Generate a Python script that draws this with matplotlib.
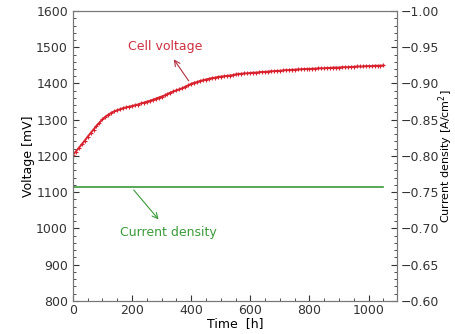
import matplotlib
matplotlib.use("Agg")
import matplotlib.pyplot as plt
from matplotlib.ticker import MultipleLocator

time_h = [0, 10, 20, 30, 40, 50, 60, 70, 80, 90,
          100, 110, 120, 130, 140, 150, 160, 170, 180, 190,
          200, 210, 220, 230, 240, 250, 260, 270, 280, 290,
          300, 310, 320, 330, 340, 350, 360, 370, 380, 390,
          400, 410, 420, 430, 440, 450, 460, 470, 480, 490,
          500, 510, 520, 530, 540, 550, 560, 570, 580, 590,
          600, 610, 620, 630, 640, 650, 660, 670, 680, 690,
          700, 710, 720, 730, 740, 750, 760, 770, 780, 790,
          800, 810, 820, 830, 840, 850, 860, 870, 880, 890,
          900, 910, 920, 930, 940, 950, 960, 970, 980, 990,
          1000, 1010, 1020, 1030, 1040, 1050]
cell_voltage = [1203, 1212, 1222, 1232, 1242, 1253, 1263, 1273, 1283, 1292,
                1301, 1308, 1314, 1319, 1323, 1326, 1329, 1332, 1334, 1336,
                1338, 1340, 1342, 1345, 1347, 1350, 1352, 1355, 1358, 1361,
                1364, 1367, 1371, 1375, 1378, 1381, 1384, 1387, 1391, 1395,
                1399, 1402, 1404, 1407, 1409, 1411, 1413, 1415, 1416, 1418,
                1419, 1420, 1421, 1422, 1423, 1425, 1426, 1427, 1428, 1428,
                1429, 1430, 1430, 1431, 1432, 1432, 1433, 1434, 1434, 1435,
                1435, 1436, 1437, 1437, 1438, 1438, 1439, 1439, 1440, 1440,
                1440, 1441, 1441, 1442, 1442, 1442, 1443, 1443, 1444, 1444,
                1444, 1445, 1445, 1445, 1446, 1446, 1447, 1447, 1447, 1448,
                1448, 1448, 1449, 1449, 1449, 1450]
current_density = [-0.757] * len(time_h)

red = "#d8232f"
green = "#3a9a3a"

fig = plt.figure(figsize=(4.55, 3.34), dpi=100)
ax = fig.add_axes([0.160, 0.099, 0.712, 0.868])
ax2 = ax.twinx()

ax.plot(time_h, cell_voltage, color=red, lw=1.4, marker="+", ms=3.5, mew=0.8)
ax2.plot(time_h, current_density, color=green, lw=1.2)

ax.set_xlim(0, 1095)
ax.set_ylim(800, 1600)
ax2.set_ylim(-0.60, -1.00)

ax.xaxis.set_major_locator(MultipleLocator(200))
ax.xaxis.set_minor_locator(MultipleLocator(50))
ax.yaxis.set_major_locator(MultipleLocator(100))
ax.yaxis.set_minor_locator(MultipleLocator(20))
ax2.yaxis.set_major_locator(MultipleLocator(0.05))
ax2.yaxis.set_minor_locator(MultipleLocator(0.01))
ax2.yaxis.set_major_formatter(matplotlib.ticker.FuncFormatter(lambda v, p: f"\u2212{abs(v):.2f}"))

for a in (ax, ax2):
    a.tick_params(which="both", direction="in", labelsize=9, colors="#333333")
    a.tick_params(which="major", length=4)
    a.tick_params(which="minor", length=2)
    for s in a.spines.values():
        s.set_color("#777777")
ax.tick_params(axis="x", pad=2)
ax2.tick_params(axis="y", pad=2.5)

ax.set_xlabel("Time  [h]", fontsize=9, labelpad=0)
ax.set_ylabel("Voltage [mV]", fontsize=9, labelpad=1)
ax2.set_ylabel("Current density [A/cm$^2$]", fontsize=8, va="center")
ax2.yaxis.set_label_coords(1.152, 0.5)

ax.annotate("Cell voltage", xy=(336, 1473), xytext=(312, 1502),
            color="#cc3040", fontsize=9, ha="center", va="center")
ax.annotate("", xy=(336, 1473), xytext=(397, 1401),
            arrowprops=dict(arrowstyle="->", color="#b03040", lw=0.8))
ax.annotate("Current density", xy=(296, 1019), xytext=(324, 990),
            color=green, fontsize=9, ha="center", va="center")
ax.annotate("", xy=(296, 1019), xytext=(200, 1112),
            arrowprops=dict(arrowstyle="->", color=green, lw=0.8))

fig.savefig("out.png", dpi=100)
